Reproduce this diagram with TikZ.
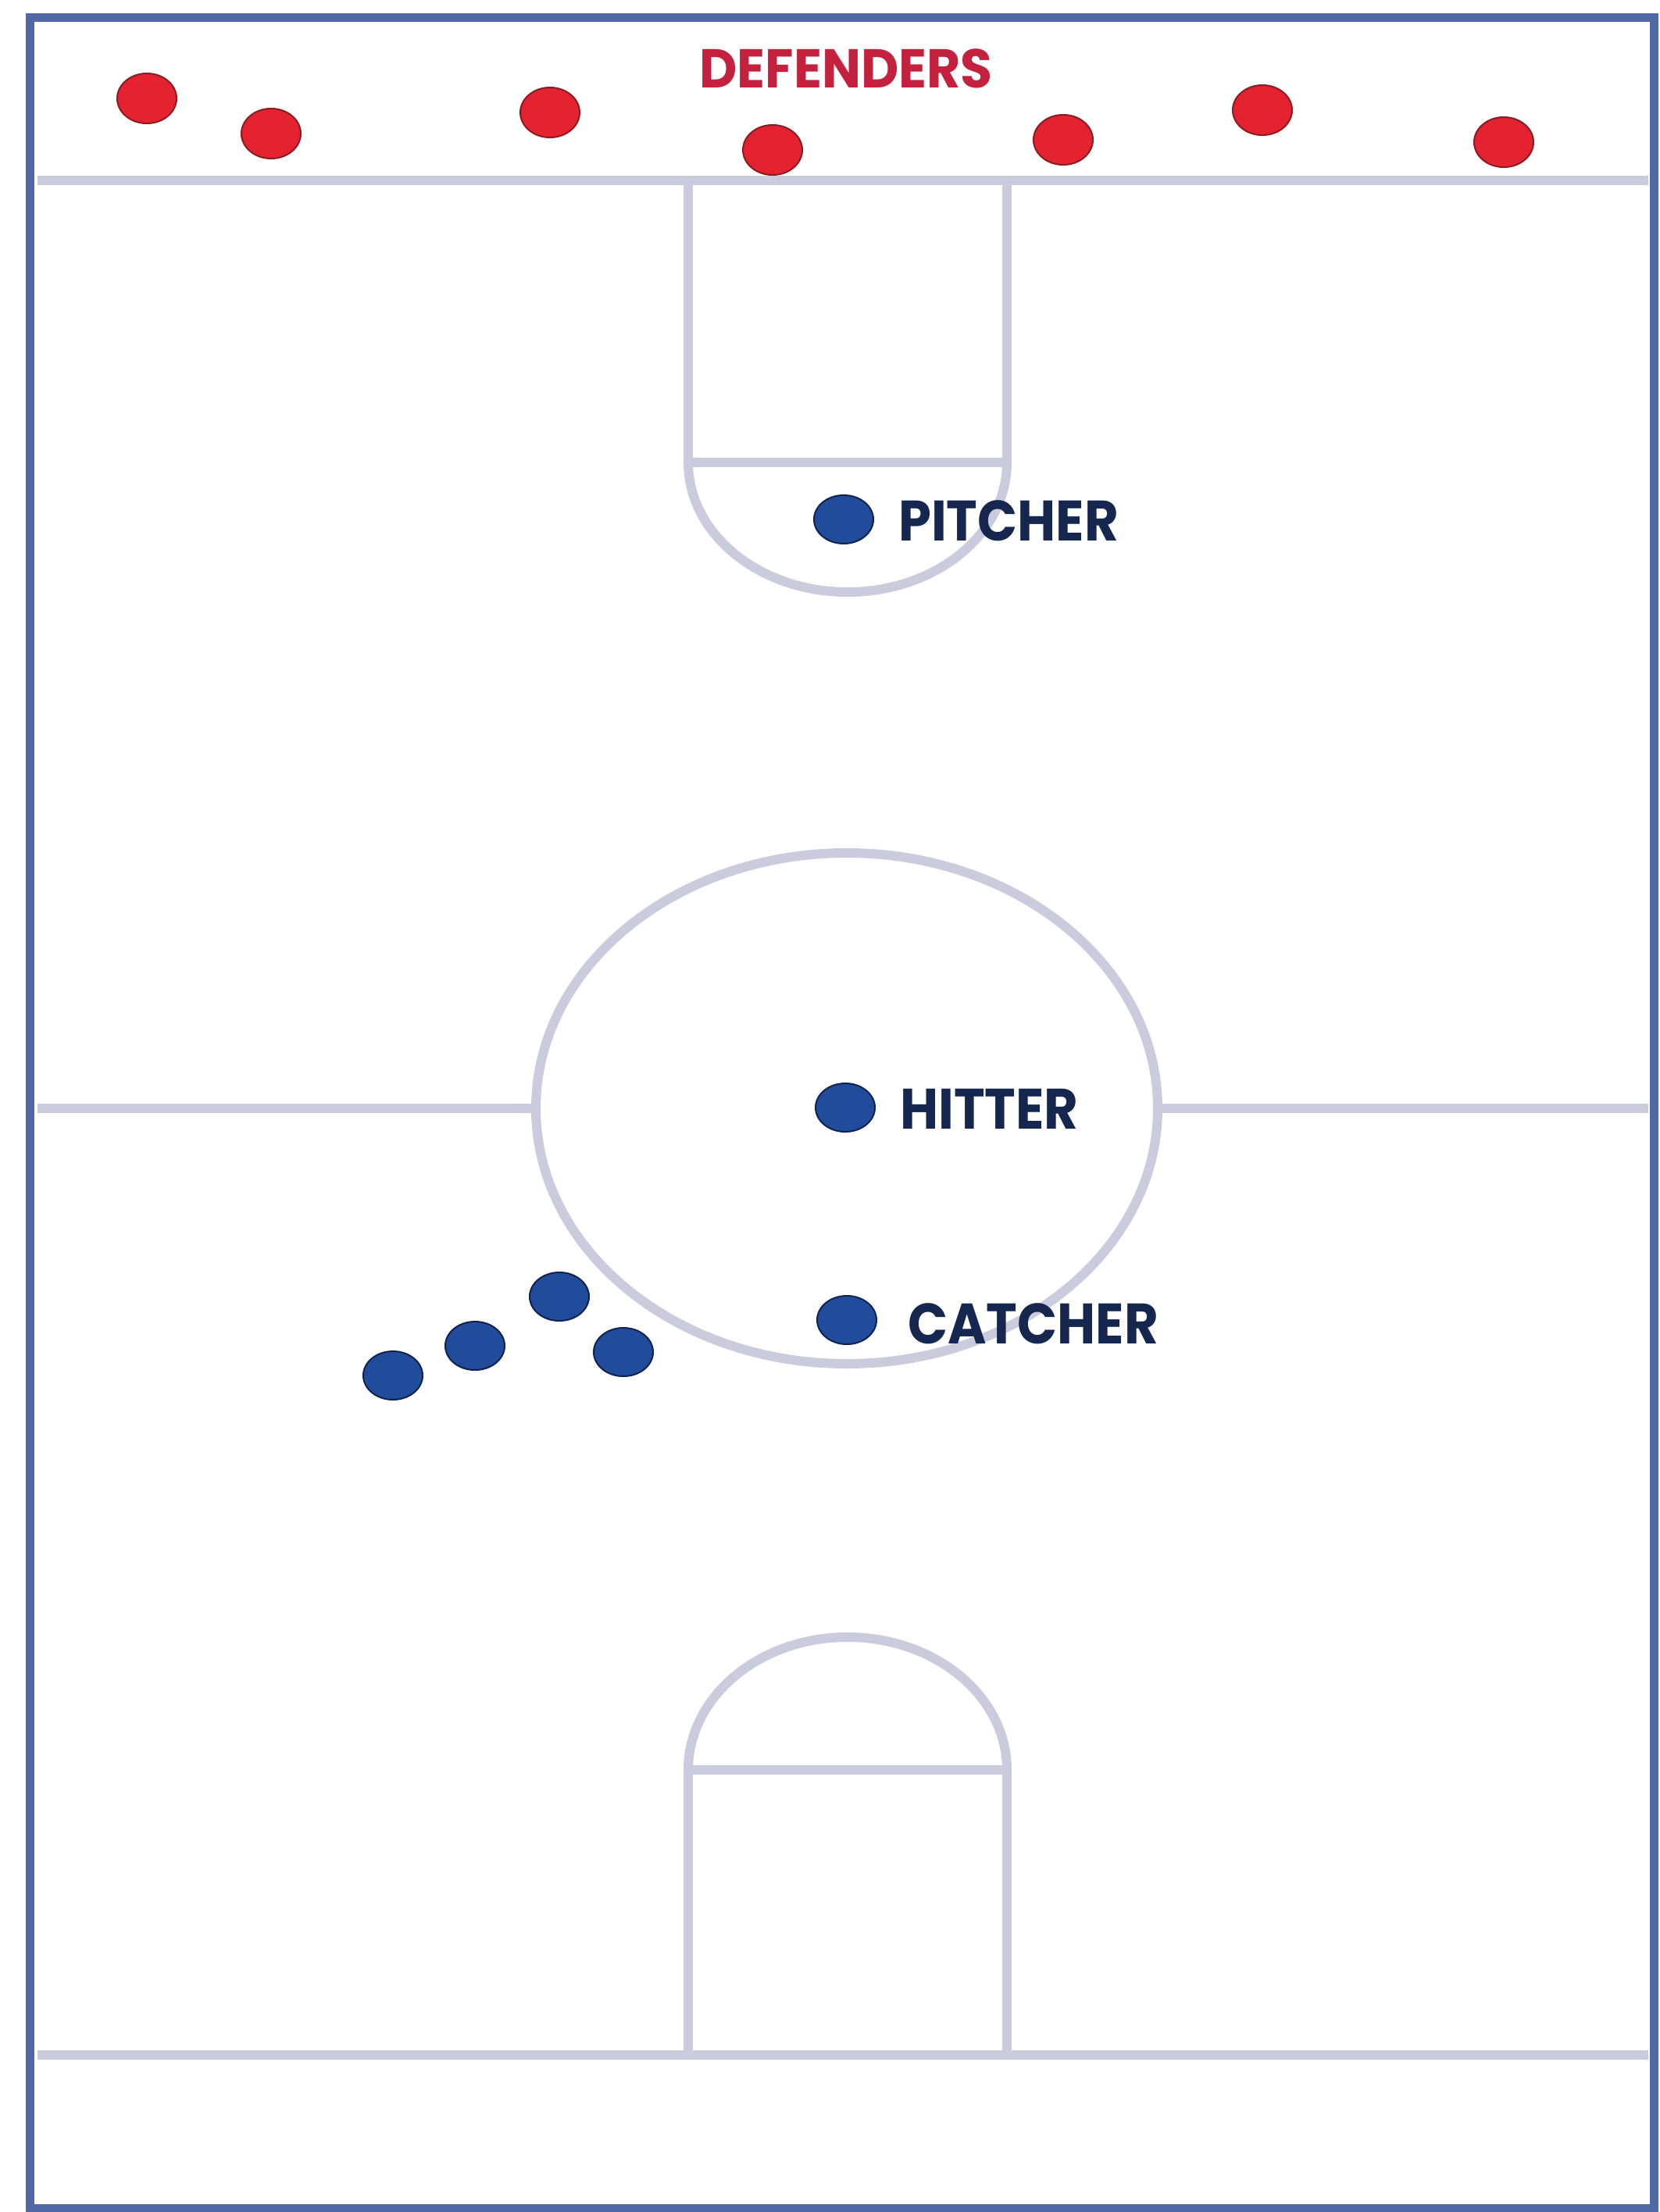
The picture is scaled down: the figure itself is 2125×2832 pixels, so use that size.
\documentclass[tikz,border=0pt]{standalone}
\usepackage{fontspec}
\newfontfamily\labelfont{Poppins}
\usetikzlibrary{shapes.geometric}
\definecolor{borderblue}{HTML}{5069A6}
\definecolor{fieldgray}{HTML}{CACCDE}
\definecolor{defred}{HTML}{E52330}
\definecolor{defredline}{HTML}{8A1C22}
\definecolor{playerblue}{HTML}{214C9C}
\definecolor{playerline}{HTML}{0F2250}
\definecolor{labelnavy}{HTML}{15264F}
\definecolor{titlered}{HTML}{C4213F}
\begin{document}
\begin{tikzpicture}[x=1pt,y=-1pt,
  fieldline/.style={draw=fieldgray, line width=12pt},
  defender/.style={ellipse, fill=defred, draw=defredline, line width=2pt,
    minimum width=76pt, minimum height=64pt, inner sep=0pt},
  player/.style={ellipse, fill=playerblue, draw=playerline, line width=2pt,
    minimum width=76pt, minimum height=62pt, inner sep=0pt},
  playerlabel/.style={anchor=west, inner sep=0pt, text=labelnavy, xscale=0.92,
    font=\labelfont\bfseries\fontsize{73}{75}\selectfont},
  titlelabel/.style={inner sep=0pt, text=titlered, xscale=0.95,
    font=\labelfont\bfseries\fontsize{70}{72}\selectfont}
]
\fill[white] (0,0) rectangle (2125,2832);
\useasboundingbox (0,0) rectangle (2125,2832);

% field lines
\draw[fieldline] (48,231) -- (2110,231);
\draw[fieldline] (48,2631) -- (2110,2631);
\draw[fieldline] (48,1419) -- (686,1419);
\draw[fieldline] (1482,1419) -- (2110,1419);
\draw[fieldline] (1084,1419) ellipse [x radius=398, y radius=327];

% top box
\draw[fieldline] (881,231) -- (881,592) -- (1289,592) -- (1289,231);
\draw[fieldline] (881,592) arc[start angle=180, end angle=0, x radius=204, y radius=166];

% bottom box
\draw[fieldline] (881,2631) -- (881,2266) -- (1289,2266) -- (1289,2631);
\draw[fieldline] (881,2266) arc[start angle=180, end angle=360, x radius=204, y radius=170];

% border
\draw[borderblue, line width=11pt] (38,22) rectangle (2117,2827);

% defenders
\node[titlelabel] (deftitle) at (1083,88) {DEFENDERS};
\node[defender] (d1) at (188,126) {};
\node[defender] (d2) at (347,171) {};
\node[defender] (d3) at (704,144) {};
\node[defender] (d4) at (989,192) {};
\node[defender] (d5) at (1361,179) {};
\node[defender] (d6) at (1616,141) {};
\node[defender] (d7) at (1925,182) {};

% players
\node[player] (pitcher) at (1080,665) {};
\node[playerlabel] (pitcherlbl) at (1150,667) {PITCHER};
\node[player] (hitter) at (1082,1418) {};
\node[playerlabel] (hitterlbl) at (1152,1420) {HITTER};
\node[player] (catcher) at (1084,1690) {};
\node[playerlabel] (catcherlbl) at (1162,1695) {CATCHER};
\node[player] (w1) at (503,1761) {};
\node[player] (w2) at (608,1723) {};
\node[player] (w3) at (716,1660) {};
\node[player] (w4) at (798,1731) {};
\end{tikzpicture}
\end{document}
